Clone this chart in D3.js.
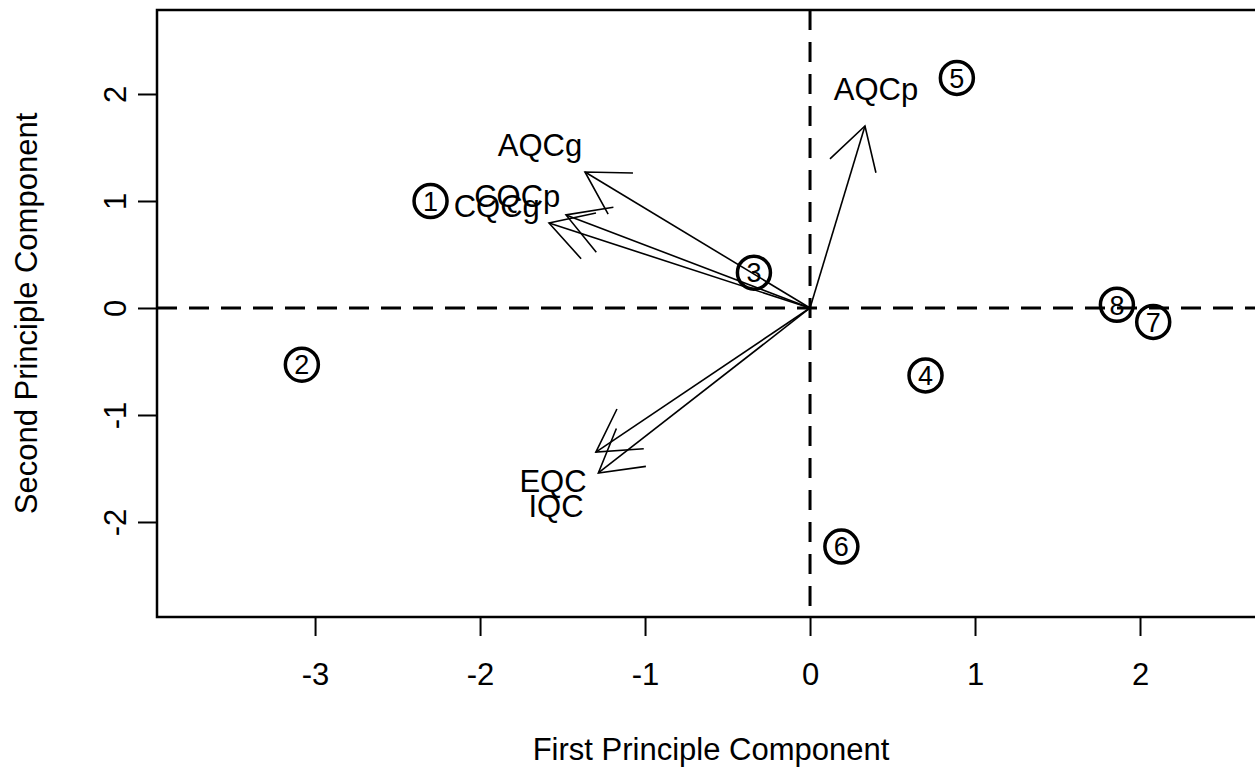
<!DOCTYPE html>
<html>
<head>
<meta charset="utf-8">
<script src="https://cdn.jsdelivr.net/npm/d3@7"></script>
<style>
  body { margin: 0; background: #fff; }
  text { font-family: "Liberation Sans", Arial, Helvetica, sans-serif; fill: #000; }
</style>
</head>
<body>
<div id="chart"></div>
<script>
// Observation scores (circled numbers).
var obsIds = [1, 2, 3, 4, 5, 6, 7, 8];
var obsPC1 = [-2.30, -3.08, -0.34, 0.70, 0.89, 0.19, 2.08, 1.86];
var obsPC2 = [1.00, -0.53, 0.33, -0.63, 2.15, -2.23, -0.13, 0.03];

// Variable loadings (arrows).
var varNames = ["AQCg", "AQCp", "CQCg", "CQCp", "EQC", "IQC"];
var loadPC1 = [-1.364, 0.333, -1.582, -1.479, -1.298, -1.283];
var loadPC2 = [1.271, 1.701, 0.794, 0.870, -1.347, -1.542];

// Axis ticks.
var xTicks = [-3, -2, -1, 0, 1, 2];
var yTicks = [-2, -1, 0, 1, 2];

var width = 1255;
var height = 770;

// Plot region (right edge runs past the window).
var box = { left: 157, right: 1265.4, top: 10, bottom: 617 };

var x = d3.scaleLinear().domain([-3.958, 2.76]).range([box.left, box.right]);
var y = d3.scaleLinear().domain([-2.888, 2.785]).range([box.bottom, box.top]);

// plain hyphen for negatives, like R does
var fmt = function(d) { return String(d); };

var svg = d3.select("#chart").append("svg")
    .attr("width", width)
    .attr("height", height);

// Dashed reference lines through the origin.
svg.append("line")
    .attr("x1", x(0)).attr("x2", x(0))
    .attr("y1", box.top).attr("y2", box.bottom)
    .attr("stroke", "#000").attr("stroke-width", 3)
    .attr("stroke-dasharray", "20,12");
svg.append("line")
    .attr("x1", box.left).attr("x2", width)
    .attr("y1", y(0)).attr("y2", y(0))
    .attr("stroke", "#000").attr("stroke-width", 3)
    .attr("stroke-dasharray", "20,12");

// Arrows for loadings.
var headLen = 48, headAng = Math.PI / 6;
var loadings = varNames.map(function(n, i) { return { name: n, pc1: loadPC1[i], pc2: loadPC2[i] }; });

var arrows = svg.append("g").selectAll("g")
    .data(loadings)
    .enter().append("g");

arrows.append("line")
    .attr("x1", x(0)).attr("y1", y(0))
    .attr("x2", function(d) { return x(d.pc1); })
    .attr("y2", function(d) { return y(d.pc2); })
    .attr("stroke", "#000").attr("stroke-width", 1.6);

arrows.append("path")
    .attr("d", function(d) {
      var tx = x(d.pc1), ty = y(d.pc2);
      var a = Math.atan2(y(0) - ty, x(0) - tx);
      var p1 = [tx + headLen * Math.cos(a + headAng), ty + headLen * Math.sin(a + headAng)];
      var p2 = [tx + headLen * Math.cos(a - headAng), ty + headLen * Math.sin(a - headAng)];
      return "M" + p1 + "L" + tx + "," + ty + "L" + p2;
    })
    .attr("fill", "none")
    .attr("stroke", "#000").attr("stroke-width", 1.6);

// Labels sit a bit beyond the arrow tips.
arrows.append("text")
    .attr("x", function(d) { return x(d.pc1 * 1.2); })
    .attr("y", function(d) { return y(d.pc2 * 1.2); })
    .attr("dy", "0.35em")
    .attr("text-anchor", "middle")
    .style("font-size", "31px")
    .text(function(d) { return d.name; });

// Circled observation numbers.
var obs = obsIds.map(function(id, i) { return { id: id, pc1: obsPC1[i], pc2: obsPC2[i] }; });
var pts = svg.append("g").selectAll("g")
    .data(obs)
    .enter().append("g")
    .attr("transform", function(d) { return "translate(" + x(d.pc1) + "," + y(d.pc2) + ")"; });

pts.append("circle")
    .attr("r", 16.5)
    .attr("fill", "none")
    .attr("stroke", "#000")
    .attr("stroke-width", 3.5);

pts.append("text")
    .attr("text-anchor", "middle")
    .attr("dy", "0.36em")
    .style("font-size", "27px")
    .text(function(d) { return d.id; });

// Plot box.
svg.append("rect")
    .attr("x", box.left).attr("y", box.top)
    .attr("width", box.right - box.left)
    .attr("height", box.bottom - box.top)
    .attr("fill", "none")
    .attr("stroke", "#000").attr("stroke-width", 2.5);

// X axis.
var xAxis = svg.append("g")
    .attr("transform", "translate(0," + box.bottom + ")")
    .call(d3.axisBottom(x).tickValues(xTicks).tickSize(19).tickPadding(0).tickFormat(fmt));
xAxis.select(".domain").remove();
xAxis.selectAll("line").attr("stroke-width", 2);
xAxis.selectAll("text")
    .attr("y", 68).attr("dy", null)
    .style("font-size", "31px").style("font-family", null);

// Y axis with rotated labels.
var yAxis = svg.append("g")
    .attr("transform", "translate(" + box.left + ",0)")
    .call(d3.axisLeft(y).tickValues(yTicks).tickSize(19).tickFormat(fmt));
yAxis.select(".domain").remove();
yAxis.selectAll("line").attr("stroke-width", 2);
yAxis.selectAll("text")
    .attr("x", null).attr("dy", null)
    .attr("transform", "translate(-31,0) rotate(-90)")
    .attr("text-anchor", "middle")
    .style("font-size", "31px").style("font-family", null);

// Axis titles.
svg.append("text")
    .attr("x", (box.left + width) / 2 + 5)
    .attr("y", 760)
    .attr("text-anchor", "middle")
    .style("font-size", "31px")
    .text("First Principle Component");

svg.append("text")
    .attr("transform", "translate(37," + ((box.top + box.bottom) / 2) + ") rotate(-90)")
    .attr("text-anchor", "middle")
    .style("font-size", "31px")
    .text("Second Principle Component");
</script>
</body>
</html>
